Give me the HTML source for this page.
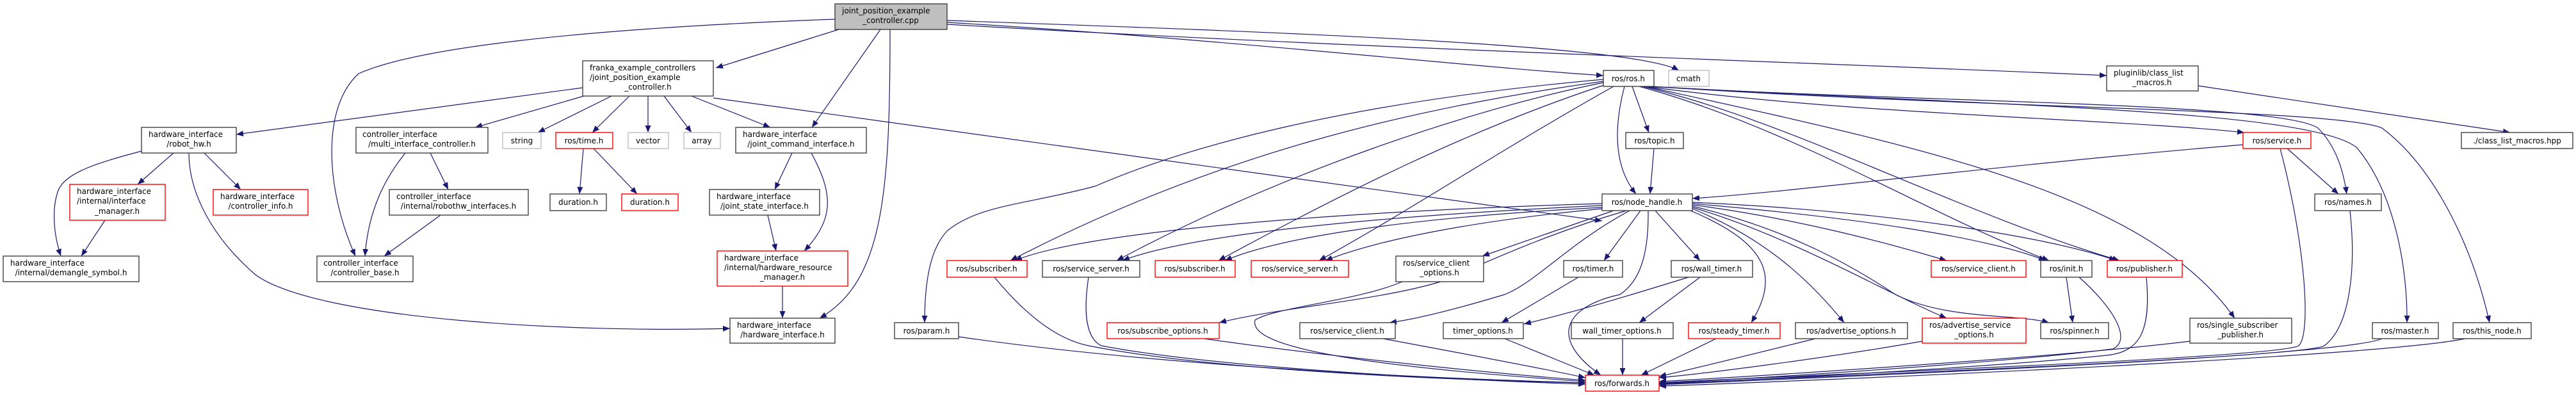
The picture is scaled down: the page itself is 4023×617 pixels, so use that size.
<!DOCTYPE html>
<html><head><meta charset="utf-8"><style>
html,body{margin:0;padding:0;background:#fff;}
svg{display:block;}
text{font-family:"DejaVu Sans","Liberation Sans",sans-serif;font-size:12px;fill:#000;}
.e{fill:none;stroke:#191970;stroke-width:1.2;marker-end:url(#a);}
.n{fill:#fff;stroke:#404040;stroke-width:1.4;}
.r{fill:#fff;stroke:#ff0000;stroke-width:1.4;}
.g{fill:#fff;stroke:#bfbfbf;stroke-width:1.4;}
.c{fill:#bfbfbf;stroke:#404040;stroke-width:1.4;}
</style></head><body>
<svg width="4023" height="617" viewBox="0 0 4023 617" xmlns="http://www.w3.org/2000/svg">
<defs><marker id="a" markerUnits="userSpaceOnUse" markerWidth="12" markerHeight="9" refX="11" refY="4.5" orient="auto"><path d="M0,0 L11,4.5 L0,9 z" fill="#191970"/></marker></defs>
<g>
<path class="e" d="M1310,46 L1118,106"/>
<path class="e" d="M1375,46 L1268,199"/>
<path class="e" d="M1390,46 C1390,300 1380,440 1280,497"/>
<path class="e" d="M1304,30 C900,45 650,75 560,115 C500,170 510,300 555,400"/>
<path class="e" d="M1479,35 C1900,60 2300,105 2504,118"/>
<path class="e" d="M1479,32 C2000,50 2550,70 2622,110"/>
<path class="e" d="M1479,38 C2100,75 2900,100 3290,118"/>
<path class="e" d="M910,137 L369,210"/>
<path class="e" d="M912,150 L742,199"/>
<path class="e" d="M955,150 L840,207"/>
<path class="e" d="M983,150 L925,207"/>
<path class="e" d="M1012,150 L1012,207"/>
<path class="e" d="M1037,150 L1080,207"/>
<path class="e" d="M1080,150 L1203,199"/>
<path class="e" d="M1114,153 L2502,345"/>
<path class="e" d="M271,239 L215,288"/>
<path class="e" d="M319,239 L376,296"/>
<path class="e" d="M221,236 C150,255 100,270 90,300 C80,330 85,370 95,400"/>
<path class="e" d="M295,239 C295,300 330,370 400,430 C500,500 900,520 1140,513"/>
<path class="e" d="M164,344 L127,400"/>
<path class="e" d="M633,239 C600,280 575,330 570,400"/>
<path class="e" d="M672,239 L700,296"/>
<path class="e" d="M688,336 L600,400"/>
<path class="e" d="M911,232 L905,303"/>
<path class="e" d="M927,232 L995,303"/>
<path class="e" d="M1237,239 L1210,296"/>
<path class="e" d="M1267,239 C1300,300 1305,340 1256,392"/>
<path class="e" d="M1199,336 L1212,392"/>
<path class="e" d="M1222,447 L1222,497"/>
<path class="e" d="M2549,135 L2575,207"/>
<path class="e" d="M2537,135 C2520,200 2520,260 2555,303"/>
<path class="e" d="M2504,124 C2100,160 1850,230 1710,291 C1600,320 1530,320 1480,360 C1450,390 1444,450 1444,504"/>
<path class="e" d="M2504,127 C2200,170 1900,240 1578,407"/>
<path class="e" d="M2504,129 C2300,170 2000,270 1744,407"/>
<path class="e" d="M2508,132 C2300,200 2100,300 1903,407"/>
<path class="e" d="M2520,135 C2350,230 2200,330 2060,407"/>
<path class="e" d="M2560,135 C2800,200 3000,330 3200,407"/>
<path class="e" d="M2565,135 C2800,190 3050,330 3310,407"/>
<path class="e" d="M2570,135 C3000,230 3350,300 3490,497"/>
<path class="e" d="M2570,135 C2900,180 3300,185 3505,207"/>
<path class="e" d="M2575,135 C3000,160 3560,160 3620,200 C3650,230 3660,270 3665,303"/>
<path class="e" d="M2578,135 C3100,165 3600,170 3680,230 C3740,300 3760,420 3759,504"/>
<path class="e" d="M2580,135 C3100,170 3650,170 3720,200 C3800,260 3860,380 3888,504"/>
<path class="e" d="M2583,232 L2577,303"/>
<path class="e" d="M3503,226 C3100,260 2800,300 2643,310"/>
<path class="e" d="M3572,232 L3652,303"/>
<path class="e" d="M3561,232 C3600,380 3610,520 3590,540 C3560,560 2700,590 2591,598"/>
<path class="e" d="M3670,329 C3680,420 3670,510 3630,540 C3600,560 2700,593 2591,600"/>
<path class="e" d="M3720,529 C3650,560 2700,595 2591,601"/>
<path class="e" d="M3850,529 C3700,560 2700,600 2591,603"/>
<path class="e" d="M3420,533 C3200,560 2700,590 2591,596"/>
<path class="e" d="M3352,433 C3360,520 3340,550 3290,555 C3100,575 2700,595 2591,600"/>
<path class="e" d="M3247,433 C3300,480 3330,530 3300,545 C3100,570 2700,593 2591,599"/>
<path class="e" d="M3002,533 C2850,560 2650,585 2591,590"/>
<path class="e" d="M2835,529 C2750,550 2650,575 2591,588"/>
<path class="e" d="M2680,529 L2563,586"/>
<path class="e" d="M2534,529 L2534,586"/>
<path class="e" d="M2350,529 L2490,586"/>
<path class="e" d="M2160,529 C2300,555 2430,580 2476,590"/>
<path class="e" d="M1880,529 C2100,560 2350,585 2476,594"/>
<path class="e" d="M1497,526 C1800,570 2200,590 2476,598"/>
<path class="e" d="M1553,433 C1600,490 1650,530 1700,540 C1900,580 2300,595 2476,598"/>
<path class="e" d="M1700,433 C1690,500 1700,530 1720,540 C1900,575 2300,595 2476,600"/>
<path class="e" d="M2190,440 C2120,470 1990,480 1960,500 C1950,540 2100,570 2476,596"/>
<path class="e" d="M2502,318 C2100,330 1700,360 1585,407"/>
<path class="e" d="M2502,321 C2100,340 1850,370 1753,407"/>
<path class="e" d="M2502,324 C2200,340 2000,370 1913,407"/>
<path class="e" d="M2502,326 C2300,345 2150,375 2070,407"/>
<path class="e" d="M2520,329 L2315,400"/>
<path class="e" d="M2562,329 L2505,407"/>
<path class="e" d="M2585,329 L2655,407"/>
<path class="e" d="M2640,329 C2760,380 2780,430 2735,504"/>
<path class="e" d="M2574,329 C2575,400 2560,440 2530,460 C2440,480 2420,530 2500,586"/>
<path class="e" d="M2540,329 C2400,370 2300,420 2250,440 C2150,470 2000,480 1904,504"/>
<path class="e" d="M2545,329 C2450,380 2400,440 2350,460 C2250,490 2200,500 2170,504"/>
<path class="e" d="M2643,320 C2800,340 2950,380 3040,407"/>
<path class="e" d="M2643,318 C2900,340 3100,370 3195,407"/>
<path class="e" d="M2643,316 C2950,330 3200,370 3305,407"/>
<path class="e" d="M2643,326 C2750,370 2820,430 2880,504"/>
<path class="e" d="M2643,324 C2800,370 2950,460 3040,497"/>
<path class="e" d="M2643,322 C2800,360 2900,420 2960,460 C3040,500 3150,490 3200,504"/>
<path class="e" d="M2465,433 L2345,504"/>
<path class="e" d="M2637,433 C2550,460 2450,490 2380,506"/>
<path class="e" d="M2655,433 L2560,504"/>
<path class="e" d="M3227,433 L3237,504"/>
<path class="e" d="M3433,134 L3920,207"/>
</g>
<g>
<rect class="c" x="1304" y="6" width="175" height="40"/><text x="1315" y="21">joint_position_example</text><text x="1391" y="36" text-anchor="middle">_controller.cpp</text>
<rect class="n" x="910" y="95" width="204" height="55"/><text x="921" y="110">franka_example_controllers</text><text x="921" y="125">/joint_position_example</text><text x="1012" y="140" text-anchor="middle">_controller.h</text>
<rect class="n" x="221" y="199" width="148" height="40"/><text x="232" y="214">hardware_interface</text><text x="295" y="229" text-anchor="middle">/robot_hw.h</text>
<rect class="n" x="556" y="199" width="206" height="40"/><text x="566" y="214">controller_interface</text><text x="659" y="229" text-anchor="middle">/multi_interface_controller.h</text>
<rect class="g" x="785" y="207" width="60" height="25"/><text x="815" y="224" text-anchor="middle">string</text>
<rect class="r" x="868" y="207" width="89" height="25"/><text x="912" y="224" text-anchor="middle">ros/time.h</text>
<rect class="g" x="981" y="207" width="63" height="25"/><text x="1012" y="224" text-anchor="middle">vector</text>
<rect class="g" x="1068" y="207" width="57" height="25"/><text x="1096" y="224" text-anchor="middle">array</text>
<rect class="n" x="1149" y="199" width="204" height="40"/><text x="1160" y="214">hardware_interface</text><text x="1251" y="229" text-anchor="middle">/joint_command_interface.h</text>
<rect class="r" x="109" y="288" width="149" height="56"/><text x="120" y="303">hardware_interface</text><text x="120" y="318">/internal/interface</text><text x="183" y="334" text-anchor="middle">_manager.h</text>
<rect class="r" x="333" y="296" width="148" height="40"/><text x="344" y="311">hardware_interface</text><text x="407" y="326" text-anchor="middle">/controller_info.h</text>
<rect class="n" x="608" y="296" width="217" height="40"/><text x="619" y="311">controller_interface</text><text x="716" y="326" text-anchor="middle">/internal/robothw_interfaces.h</text>
<rect class="n" x="859" y="303" width="88" height="26"/><text x="903" y="320" text-anchor="middle">duration.h</text>
<rect class="r" x="971" y="303" width="88" height="26"/><text x="1015" y="320" text-anchor="middle">duration.h</text>
<rect class="n" x="1108" y="296" width="172" height="40"/><text x="1119" y="311">hardware_interface</text><text x="1194" y="326" text-anchor="middle">/joint_state_interface.h</text>
<rect class="n" x="5" y="400" width="212" height="40"/><text x="16" y="415">hardware_interface</text><text x="111" y="430" text-anchor="middle">/internal/demangle_symbol.h</text>
<rect class="n" x="495" y="400" width="150" height="40"/><text x="505" y="415">controller_interface</text><text x="570" y="430" text-anchor="middle">/controller_base.h</text>
<rect class="r" x="1120" y="392" width="204" height="55"/><text x="1131" y="407">hardware_interface</text><text x="1131" y="422">/internal/hardware_resource</text><text x="1222" y="437" text-anchor="middle">_manager.h</text>
<rect class="n" x="1140" y="497" width="164" height="39"/><text x="1151" y="512">hardware_interface</text><text x="1222" y="527" text-anchor="middle">/hardware_interface.h</text>
<rect class="n" x="2504" y="110" width="79" height="25"/><text x="2543" y="127" text-anchor="middle">ros/ros.h</text>
<rect class="g" x="2606" y="110" width="63" height="25"/><text x="2637" y="127" text-anchor="middle">cmath</text>
<rect class="n" x="3290" y="103" width="143" height="39"/><text x="3301" y="118">pluginlib/class_list</text><text x="3361" y="133" text-anchor="middle">_macros.h</text>
<rect class="n" x="2539" y="207" width="90" height="25"/><text x="2584" y="224" text-anchor="middle">ros/topic.h</text>
<rect class="r" x="3503" y="207" width="106" height="25"/><text x="3556" y="224" text-anchor="middle">ros/service.h</text>
<rect class="n" x="3844" y="207" width="174" height="25"/><text x="3931" y="224" text-anchor="middle">./class_list_macros.hpp</text>
<rect class="n" x="2502" y="303" width="141" height="26"/><text x="2572" y="320" text-anchor="middle">ros/node_handle.h</text>
<rect class="n" x="3615" y="303" width="104" height="26"/><text x="3667" y="320" text-anchor="middle">ros/names.h</text>
<rect class="r" x="1479" y="407" width="125" height="26"/><text x="1541" y="424" text-anchor="middle">ros/subscriber.h</text>
<rect class="n" x="1628" y="407" width="152" height="26"/><text x="1704" y="424" text-anchor="middle">ros/service_server.h</text>
<rect class="r" x="1804" y="407" width="125" height="26"/><text x="1866" y="424" text-anchor="middle">ros/subscriber.h</text>
<rect class="r" x="1954" y="407" width="152" height="26"/><text x="2030" y="424" text-anchor="middle">ros/service_server.h</text>
<rect class="n" x="2180" y="400" width="137" height="40"/><text x="2191" y="415">ros/service_client</text><text x="2248" y="430" text-anchor="middle">_options.h</text>
<rect class="n" x="2442" y="407" width="92" height="26"/><text x="2488" y="424" text-anchor="middle">ros/timer.h</text>
<rect class="n" x="2610" y="407" width="127" height="26"/><text x="2673" y="424" text-anchor="middle">ros/wall_timer.h</text>
<rect class="r" x="3016" y="407" width="148" height="26"/><text x="3090" y="424" text-anchor="middle">ros/service_client.h</text>
<rect class="n" x="3187" y="407" width="80" height="26"/><text x="3227" y="424" text-anchor="middle">ros/init.h</text>
<rect class="r" x="3291" y="407" width="117" height="26"/><text x="3349" y="424" text-anchor="middle">ros/publisher.h</text>
<rect class="n" x="1397" y="504" width="100" height="25"/><text x="1447" y="521" text-anchor="middle">ros/param.h</text>
<rect class="r" x="1729" y="504" width="175" height="25"/><text x="1816" y="521" text-anchor="middle">ros/subscribe_options.h</text>
<rect class="n" x="2030" y="504" width="149" height="25"/><text x="2104" y="521" text-anchor="middle">ros/service_client.h</text>
<rect class="n" x="2254" y="504" width="125" height="25"/><text x="2316" y="521" text-anchor="middle">timer_options.h</text>
<rect class="n" x="2454" y="504" width="159" height="25"/><text x="2533" y="521" text-anchor="middle">wall_timer_options.h</text>
<rect class="r" x="2637" y="504" width="143" height="25"/><text x="2708" y="521" text-anchor="middle">ros/steady_timer.h</text>
<rect class="n" x="2804" y="504" width="175" height="25"/><text x="2891" y="521" text-anchor="middle">ros/advertise_options.h</text>
<rect class="r" x="3002" y="497" width="162" height="39"/><text x="3013" y="512">ros/advertise_service</text><text x="3083" y="527" text-anchor="middle">_options.h</text>
<rect class="n" x="3187" y="504" width="106" height="25"/><text x="3240" y="521" text-anchor="middle">ros/spinner.h</text>
<rect class="n" x="3420" y="497" width="159" height="39"/><text x="3431" y="512">ros/single_subscriber</text><text x="3499" y="527" text-anchor="middle">_publisher.h</text>
<rect class="n" x="3705" y="504" width="103" height="25"/><text x="3756" y="521" text-anchor="middle">ros/master.h</text>
<rect class="n" x="3831" y="504" width="122" height="25"/><text x="3892" y="521" text-anchor="middle">ros/this_node.h</text>
<rect class="r" x="2476" y="586" width="115" height="25"/><text x="2533" y="603" text-anchor="middle">ros/forwards.h</text>
</g>
</svg>
</body></html>
